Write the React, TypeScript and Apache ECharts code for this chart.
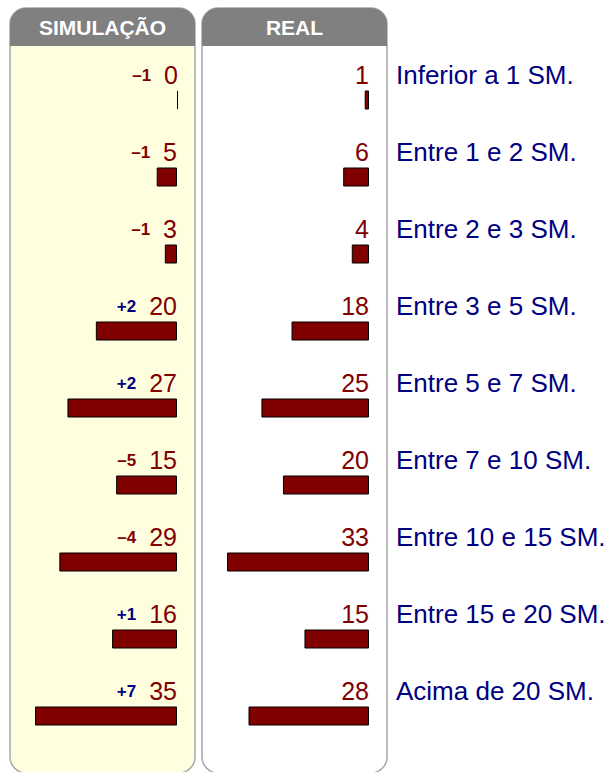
import React, { useEffect, useRef } from "react";
import * as echarts from "echarts";

const categories = [
  "Inferior a 1 SM.",
  "Entre 1 e 2 SM.",
  "Entre 2 e 3 SM.",
  "Entre 3 e 5 SM.",
  "Entre 5 e 7 SM.",
  "Entre 7 e 10 SM.",
  "Entre 10 e 15 SM.",
  "Entre 15 e 20 SM.",
  "Acima de 20 SM.",
];
const simulacao = [0, 5, 3, 20, 27, 15, 29, 16, 35];
const real = [1, 6, 4, 18, 25, 20, 33, 15, 28];
const panelTitles = ["SIMULAÇÃO", "REAL"];

const FONT = "'Liberation Sans', Arial, sans-serif";
const RED = "#800000";
const NAVY = "#000080";

export default function App() {
  const ref = useRef<HTMLDivElement>(null);
  useEffect(() => {
    if (!ref.current) return;
    const chart = echarts.init(ref.current, null, { renderer: "svg" });
    const diffs = simulacao.map((v, i) => v - real[i]);
    const fmtDiff = (d: number) =>
      d > 0 ? "{p|+" + d + "}" : d < 0 ? "{n|\u2013" + Math.abs(d) + "}" : "{p|0}";

    const panel = (x: number, fill: string, title: string) => [
      {
        type: "rect",
        z: -10,
        shape: { x, y: 8, width: 185, height: 765, r: 16 },
        style: { fill, stroke: "#a8a8a8", lineWidth: 1.5 },
      },
      {
        type: "rect",
        z: -9,
        shape: { x, y: 8, width: 185, height: 38, r: [16, 16, 0, 0] },
        style: { fill: "#808080" },
      },
      {
        type: "text",
        z: -8,
        x: x + 92.5,
        y: 27,
        style: {
          text: title,
          fill: "#ffffff",
          font: "bold 21px 'Liberation Sans', Arial, sans-serif",
          align: "center",
          verticalAlign: "middle",
        },
      },
    ];

    const diffStyle = { fontFamily: FONT, fontWeight: "bold", fontSize: 17, verticalAlign: "middle" };

    const barSeries = (data: number[], axis: number, withDiff: boolean) => ({
      type: "bar",
      xAxisIndex: axis,
      yAxisIndex: axis,
      data,
      barWidth: 19,
      barMinHeight: 1,
      clip: false,
      itemStyle: { color: RED, borderColor: "#000000", borderWidth: 1 },
      label: {
        show: true,
        position: "insideRight",
        distance: 0,
        offset: [0, -25],
        formatter: (p: any) =>
          withDiff
            ? fmtDiff(diffs[p.dataIndex]) + "{s| }{v|" + data[p.dataIndex] + "}"
            : "{v|" + data[p.dataIndex] + "}",
        rich: {
          p: { ...diffStyle, color: NAVY },
          n: { ...diffStyle, color: RED },
          s: { fontSize: 14, width: 13, fontFamily: FONT },
          v: { color: RED, fontFamily: FONT, fontSize: 25, verticalAlign: "middle" },
        },
      },
    });

    chart.setOption({
      animation: false,
      graphic: [...panel(10, "#ffffe0", panelTitles[0]), ...panel(202, "#ffffff", panelTitles[1])],
      grid: [
        { left: 35, width: 142, top: 61.5, height: 693, outerBoundsMode: "none" },
        { left: 227, width: 142, top: 61.5, height: 693, outerBoundsMode: "none" },
      ],
      xAxis: [
        { type: "value", gridIndex: 0, min: 0, max: "dataMax", inverse: true, show: false },
        { type: "value", gridIndex: 1, min: 0, max: "dataMax", inverse: true, show: false },
      ],
      yAxis: [
        { type: "category", gridIndex: 0, data: categories, inverse: true, show: false },
        {
          type: "category",
          gridIndex: 1,
          data: categories,
          inverse: true,
          position: "right",
          axisLine: { show: false },
          axisTick: { show: false },
          axisLabel: {
            margin: 27,
            color: NAVY,
            fontFamily: FONT,
            fontSize: 26,
            align: "left",
            verticalAlign: "bottom",
            lineHeight: 50,
          },
        },
      ],
      series: [barSeries(simulacao, 0, true), barSeries(real, 1, false)],
    });
    return () => chart.dispose();
  }, []);
  return <div ref={ref} style={{ position: "absolute", left: 0, top: 0, width: 607, height: 772 }} />;
}
